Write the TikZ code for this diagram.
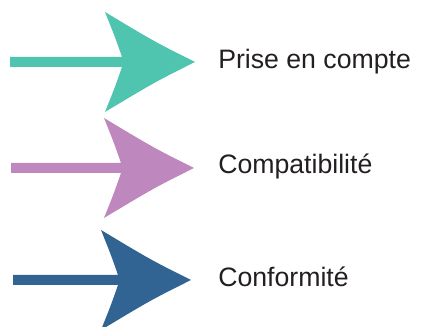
\documentclass[tikz,border=0pt]{standalone}
\usepackage{fontspec}
\setmainfont{Liberation Sans}
\usepackage{xcolor}
\definecolor{vertEau}{HTML}{4FC4AE}
\definecolor{mauve}{HTML}{BE88BE}
\definecolor{bleuAcier}{HTML}{316393}
\definecolor{texteGris}{HTML}{231F20}

\tikzset{
  fleche/.pic={
    \fill (#1,-5) -- (17,-5) .. controls (10,-25) .. (0,-50) .. controls (50,-20) .. (90,0) .. controls (50,20) .. (0,50) .. controls (10,25) .. (17,5) -- (#1,5) -- cycle ;
  },
  etiquette/.style={anchor=west, inner sep=0.75pt, text=texteGris, font=\fontsize{20}{24}\selectfont}
}

\begin{document}
\begin{tikzpicture}[x=0.75pt,y=0.75pt,yscale=-1,xscale=1]
    \useasboundingbox (0,0) rectangle (432,327); %set diagram size 432 x 327

    %Shape: Arrow [teal]
    \path [fill=vertEau] (105,62) pic {fleche=-95};
    %Shape: Arrow [mauve]
    \path [fill=mauve] (104,168) pic {fleche=-93};
    %Shape: Arrow [blue]
    \path [fill=bleuAcier] (101,280) pic {fleche=-88};

    % Text Node
    \node [etiquette] (prise) at (217,62) {Prise en compte};
    % Text Node
    \node [etiquette] (compat) at (217,166) {Compatibilité};
    % Text Node
    \node [etiquette] (conform) at (217,277) {Conformité};

\end{tikzpicture}
\end{document}
